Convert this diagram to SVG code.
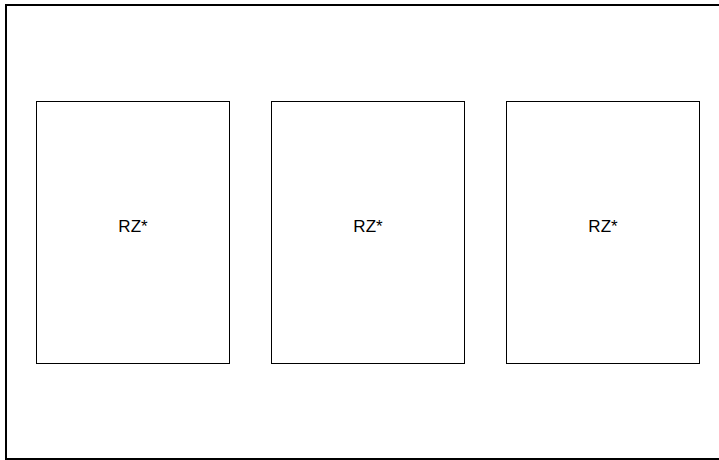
<svg xmlns="http://www.w3.org/2000/svg" width="719" height="460" viewBox="0 0 719 460">
<style>
.box{fill:#fff;stroke:#000;stroke-width:1}
.lbl{font-family:"Liberation Sans",Arial,sans-serif;font-size:17px;fill:#000;text-anchor:middle}
</style>
<rect width="719" height="460" fill="#fff"/>
<rect id="frame" x="6" y="5" width="720" height="454" fill="none" stroke="#000" stroke-width="2"/>
<g id="node1"><rect class="box" x="36.5" y="101.5" width="193" height="262"/><text class="lbl" x="133" y="232">RZ*</text></g>
<g id="node2"><rect class="box" x="271.5" y="101.5" width="193" height="262"/><text class="lbl" x="368" y="232">RZ*</text></g>
<g id="node3"><rect class="box" x="506.5" y="101.5" width="193" height="262"/><text class="lbl" x="603" y="232">RZ*</text></g>
<g id="connectors"></g>
</svg>
